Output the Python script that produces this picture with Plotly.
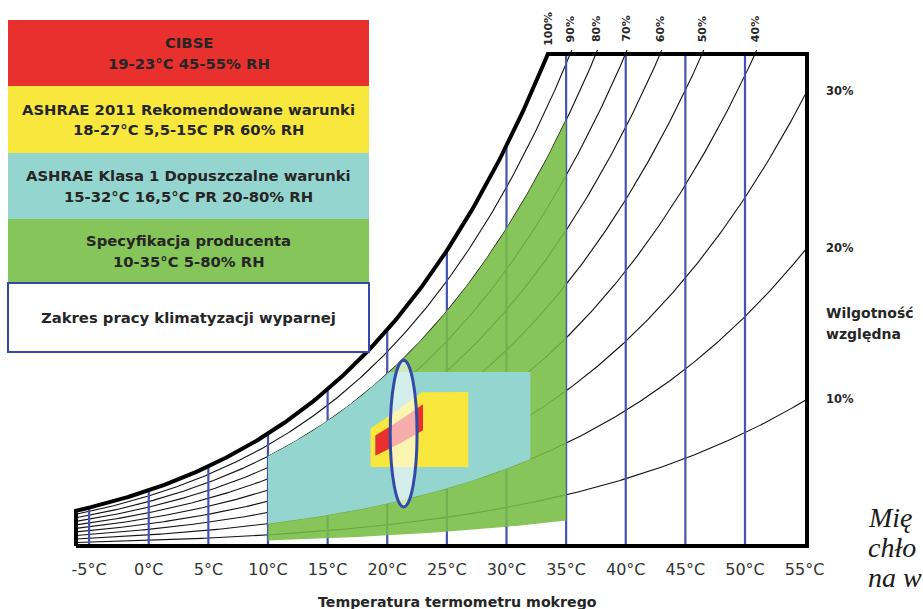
import numpy as np
import plotly.graph_objects as go

# ---------------- figure / layout constants ----------------
FIG_W, FIG_H = 923, 609
P_ATM = 101.325  # kPa

# ---------------- data ----------------
TEMP_TICKS = [-5, 0, 5, 10, 15, 20, 25, 30, 35, 40, 45, 50, 55]
TEMP_LABELS = [f"{t}°C" for t in TEMP_TICKS]
BLUE_LINE_TEMPS = [-5, 0, 5, 10, 15, 20, 25, 30, 35, 40, 45, 50]
RH_CURVES = [90, 80, 70, 60, 50, 40, 30, 20, 10]
RH_TOP_LABELS = [100, 90, 80, 70, 60, 50, 40]
RH_RIGHT_LABELS = [30, 20, 10]

CHART_T_MIN, CHART_T_MAX = -6.1, 55.2   # deg C, chart frame
CHART_W_MAX = 33.36                      # g/kg, chart frame top

GREEN_T = (10, 35)
GREEN_RH = (5, 80)
CYAN_T = (10, 32)
CYAN_RH = (20, 80)
CYAN_W_MAX = 11.8
YELLOW_T = (18.6, 26.8)
YELLOW_W = (5.35, 10.45)
YELLOW_RH_MAX = 60
RED_T = (19, 23)
RED_RH = (45, 55)
ELLIPSE_T = (20.25, 22.5)
ELLIPSE_W = (2.65, 12.6)

LEGEND_TITLES = ["CIBSE", "ASHRAE 2011 Rekomendowane warunki",
                 "ASHRAE Klasa 1 Dopuszczalne warunki", "Specyfikacja producenta",
                 "Zakres pracy klimatyzacji wyparnej"]
LEGEND_SUBTITLES = ["19-23°C 45-55% RH", "18-27°C 5,5-15C PR 60% RH",
                    "15-32°C 16,5°C PR 20-80% RH", "10-35°C 5-80% RH", ""]
PAGE_TEXT = ["Mię", "chło", "na w"]

# ---------------- styles ----------------
RED = "#e8302e"
YELLOW = "#f8e73c"
CYAN = "#95d5cf"
GREEN = "#86c55a"
GREEN_CHART = "#76bd44"
BLUE = "#4453b0"
ELLIPSE_BLUE = "#3349a8"
TXT = "#262626"
FONT = "DejaVu Sans"

# pixel geometry of the frame (layout only)
FRAME_L, FRAME_R, FRAME_T, FRAME_B = 76, 807, 54, 546
PAD = 4
SX = (FRAME_R - FRAME_L) / (CHART_T_MAX - CHART_T_MIN)
SY = (FRAME_B - FRAME_T) / CHART_W_MAX


def psat(t):
    return 0.61094 * np.exp(17.625 * t / (t + 243.04))


def w_of(t, rh):
    pv = rh / 100.0 * psat(t)
    return 622.0 * pv / (P_ATM - pv)


def t_of(w, rh):
    pv = w * P_ATM / (622.0 + w)
    ps = pv / (rh / 100.0)
    a = np.log(ps / 0.61094)
    return 243.04 * a / (17.625 - a)


def px(x):
    return x / FIG_W


def py(y):
    return 1 - y / FIG_H


fig = go.Figure()

# ---- thin RH curves ----
tt = np.linspace(CHART_T_MIN, CHART_T_MAX, 400)
cx, cy = [], []
for rh in RH_CURVES:
    cx += list(tt) + [None]
    cy += list(w_of(tt, rh)) + [None]
fig.add_trace(go.Scatter(x=cx, y=cy, mode="lines", line=dict(color="#111111", width=1.1),
                         hoverinfo="skip", showlegend=False))

# ---- blue vertical lines ----
bx, by = [], []
for t in BLUE_LINE_TEMPS:
    top = min(w_of(t, 100), CHART_W_MAX)
    bx += [t, t, None]
    by += [0, top, None]
fig.add_trace(go.Scatter(x=bx, y=by, mode="lines", line=dict(color=BLUE, width=2.2),
                         hoverinfo="skip", showlegend=False))


def add_poly(xs, ys, color, opacity=1.0):
    fig.add_trace(go.Scatter(x=list(xs), y=list(ys), mode="lines", fill="toself",
                             fillcolor=color, line=dict(width=0), opacity=opacity,
                             hoverinfo="skip", showlegend=False))


# ---- green ----
tg = np.linspace(GREEN_T[0], GREEN_T[1], 120)
add_poly(np.concatenate([tg, tg[::-1]]),
         np.concatenate([w_of(tg, GREEN_RH[0]), w_of(tg[::-1], GREEN_RH[1])]),
         GREEN_CHART, 0.88)

# ---- cyan ----
tc = np.linspace(CYAN_T[0], CYAN_T[1], 200)
add_poly(np.concatenate([tc, tc[::-1]]),
         np.concatenate([w_of(tc, CYAN_RH[0]),
                         np.minimum(w_of(tc[::-1], CYAN_RH[1]), CYAN_W_MAX)]),
         CYAN)

# ---- yellow ----
ty = np.linspace(YELLOW_T[0], YELLOW_T[1], 150)
add_poly(np.concatenate([ty, ty[::-1]]),
         np.concatenate([np.full_like(ty, YELLOW_W[0]),
                         np.minimum(w_of(ty[::-1], YELLOW_RH_MAX), YELLOW_W[1])]),
         YELLOW)

# ---- red ----
tr = np.linspace(RED_T[0], RED_T[1], 60)
add_poly(np.concatenate([tr, tr[::-1]]),
         np.concatenate([w_of(tr, RED_RH[0]), w_of(tr[::-1], RED_RH[1])]),
         RED)

# ---- frame (saturation curve + borders) ----
t_sat_top = float(t_of(CHART_W_MAX, 100))
ts = np.linspace(t_sat_top, CHART_T_MIN, 200)
fx = [CHART_T_MIN, CHART_T_MAX, CHART_T_MAX] + list(ts) + [CHART_T_MIN]
fy = [0, 0, CHART_W_MAX] + list(w_of(ts, 100)) + [0]
fig.add_trace(go.Scatter(x=fx, y=fy, mode="lines", line=dict(color="#000000", width=4),
                         hoverinfo="skip", showlegend=False))

# ---- ellipse ----
shapes = [dict(type="circle", xref="x", yref="y", x0=ELLIPSE_T[0], x1=ELLIPSE_T[1],
               y0=ELLIPSE_W[0], y1=ELLIPSE_W[1], line=dict(color=ELLIPSE_BLUE, width=3),
               fillcolor="rgba(255,255,255,0.6)", layer="above")]

# ---- legend boxes ----
BOX_X = (8, 369)
BOX_Y = [(20, 86), (86, 153), (153, 219), (219, 283), (283, 352)]
BOX_COLORS = [RED, YELLOW, CYAN, GREEN, "#ffffff"]
annotations = []
for i, (y0, y1) in enumerate(BOX_Y):
    last = i == len(BOX_Y) - 1
    shapes.append(dict(type="rect", xref="paper", yref="paper",
                       x0=px(BOX_X[0]), x1=px(BOX_X[1]), y0=py(y1), y1=py(y0),
                       fillcolor=BOX_COLORS[i],
                       line=dict(color=ELLIPSE_BLUE if last else BOX_COLORS[i],
                                 width=2 if last else 0),
                       layer="above"))
    xc = px((BOX_X[0] + BOX_X[1]) / 2)
    yc = (y0 + y1) / 2
    if LEGEND_SUBTITLES[i]:
        lines = [(LEGEND_TITLES[i], yc - 10.5), (LEGEND_SUBTITLES[i], yc + 10.5)]
    else:
        lines = [(LEGEND_TITLES[i], yc)]
    for txt, yy in lines:
        annotations.append(dict(text=f"<b>{txt}</b>", x=xc, y=py(yy), xref="paper",
                                yref="paper", showarrow=False, xanchor="center",
                                yanchor="middle",
                                font=dict(family=FONT, size=14.8, color=TXT)))

# ---- top RH labels ----
for rh in RH_TOP_LABELS:
    annotations.append(dict(text=f"<b>{rh}%</b>", x=float(t_of(CHART_W_MAX, rh)),
                            xref="x", y=py(29), yref="paper", textangle=-90,
                            showarrow=False, xanchor="center", yanchor="middle",
                            font=dict(family=FONT, size=11, color=TXT)))

# ---- right RH labels ----
for rh in RH_RIGHT_LABELS:
    annotations.append(dict(text=f"<b>{rh}%</b>", x=px(824), xref="paper",
                            y=float(w_of(CHART_T_MAX, rh)), yref="y",
                            showarrow=False, xanchor="left", yanchor="middle",
                            font=dict(family=FONT, size=11.5, color=TXT)))
annotations.append(dict(text="<b>Wilgotność</b>", x=px(824), y=py(313), xref="paper",
                        yref="paper", showarrow=False, xanchor="left", yanchor="middle",
                        font=dict(family=FONT, size=14, color=TXT)))
annotations.append(dict(text="<b>względna</b>", x=px(824), y=py(334), xref="paper",
                        yref="paper", showarrow=False, xanchor="left", yanchor="middle",
                        font=dict(family=FONT, size=14, color=TXT)))

# ---- axis title ----
annotations.append(dict(text="<b>Temperatura termometru mokrego</b>", x=px(457),
                        y=py(602), xref="paper", yref="paper", showarrow=False,
                        xanchor="center", yanchor="middle",
                        font=dict(family=FONT, size=14.2, color=TXT)))

# ---- cropped page text at right ----
for txt, yy in zip(PAGE_TEXT, [517, 547, 577]):
    annotations.append(dict(text=f"<i>{txt}</i>", x=px(866), y=py(yy), xref="paper",
                            yref="paper", showarrow=False, xanchor="left",
                            yanchor="middle",
                            font=dict(family="Liberation Serif", size=28,
                                      color="#1a1a1a")))

fig.update_layout(
    width=FIG_W, height=FIG_H, autosize=False,
    margin=dict(l=0, r=0, t=0, b=0, autoexpand=False),
    paper_bgcolor="white", plot_bgcolor="rgba(0,0,0,0)",
    showlegend=False,
    shapes=shapes, annotations=annotations,
    xaxis=dict(domain=[px(FRAME_L - PAD), px(FRAME_R + PAD)],
               range=[CHART_T_MIN - PAD / SX, CHART_T_MAX + PAD / SX],
               tickvals=TEMP_TICKS, ticktext=TEMP_LABELS, ticks="",
               showgrid=False, zeroline=False, showline=False, automargin=False,
               tickfont=dict(family=FONT, size=16, color="#333333"),
               ticklabelstandoff=8, fixedrange=True),
    yaxis=dict(domain=[py(FRAME_B + PAD), py(FRAME_T - PAD)],
               range=[-PAD / SY, CHART_W_MAX + PAD / SY],
               showgrid=False, zeroline=False, showline=False, automargin=False,
               showticklabels=False, ticks="", fixedrange=True),
)

fig.write_html(
    "out.html",
    config={"responsive": False, "displayModeBar": False},
    post_script="document.documentElement.style.overflow='hidden';"
                "document.body.style.overflow='hidden';document.body.style.margin='0';",
)
